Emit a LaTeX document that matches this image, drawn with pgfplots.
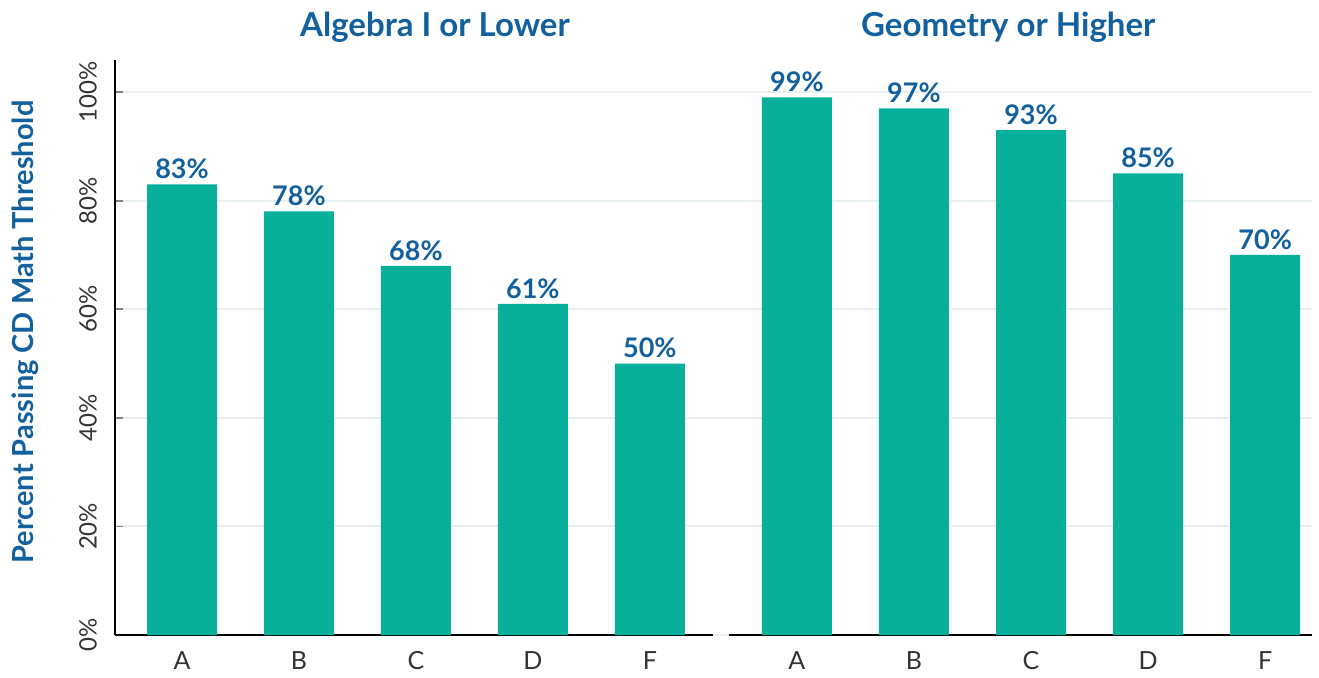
\documentclass[border=0pt]{standalone}
\usepackage{pgfplots}
\pgfplotsset{compat=1.18}
\usepackage{fontspec}
\setmainfont{Lato}
\definecolor{barteal}{HTML}{08AF9B}
\definecolor{titleblue}{HTML}{12609E}
\definecolor{gridc}{HTML}{E8EFF1}
\begin{document}
\begin{tikzpicture}
\pgfplotsset{
  panel/.style={
    scale only axis, height=287.5pt,
    ymin=0, ymax=105.9,
    ybar, bar width=35pt, bar shift=0pt,
    xtick=data, xticklabels={A,B,C,D,F},
    ytick={0,20,...,100},
    ymajorgrids, grid style={gridc, line width=1pt},
    axis x line*=bottom, axis y line*=left,
    x axis line style={line width=0.9pt, -},
    y axis line style={line width=0.9pt, -},
    xtick style={draw=none},
    major tick length=4pt,
    /pgf/number format/assume math mode=true,
    tick label style={font=\fontsize{12}{14}\selectfont, color=black!80},
    xticklabel style={anchor=center, yshift=-9pt, font=\fontsize{12.5}{14}\selectfont},
    title style={font=\bfseries\fontsize{16.5}{19}\selectfont, color=titleblue, anchor=base, yshift=6pt},
    point meta=y,
    nodes near coords={\pgfmathprintnumber{\pgfplotspointmeta}\%},
    nodes near coords style={font=\bfseries\fontsize{13.5}{16}\selectfont, color=titleblue, inner sep=2.5pt},
  }
}
\begin{axis}[panel, width=299pt, xmin=-0.573, xmax=4.54, clip=false,
  title={Algebra I or Lower}, title style={at={(axis description cs:0.535,1)}},
  yticklabel={\pgfmathprintnumber{\tick}\%},
  yticklabel style={rotate=90, anchor=center, yshift=13.5pt},
  ytick style={line width=0.9pt},
  ylabel={Percent Passing CD Math Threshold},
  ylabel style={font=\bfseries\fontsize{14.5}{17}\selectfont, color=titleblue,
    at={(axis description cs:-0.1505,0.527)}, anchor=center}]
\pgfplotsinvokeforeach{0,20,40,60,80,100}{
  \draw[gridc, line width=1pt] (axis cs:4.54,#1) -- ++(8pt,0);
}
\addplot[fill=barteal, draw=none] coordinates {(0,83) (1,78) (2,68) (3,61) (4,50)};
\end{axis}
\begin{axis}[panel, xshift=307pt, width=291.5pt, xmin=-0.58, xmax=4.40,
  title={Geometry or Higher}, title style={at={(axis description cs:0.479,1)}},
  yticklabels={}, ytick style={draw=none}, y axis line style={draw=none}]
\addplot[fill=barteal, draw=none] coordinates {(0,99) (1,97) (2,93) (3,85) (4,70)};
\end{axis}
\pgfresetboundingbox
\path (-57.5pt,-21pt) rectangle (602pt,317.5pt);
\end{tikzpicture}
\end{document}
